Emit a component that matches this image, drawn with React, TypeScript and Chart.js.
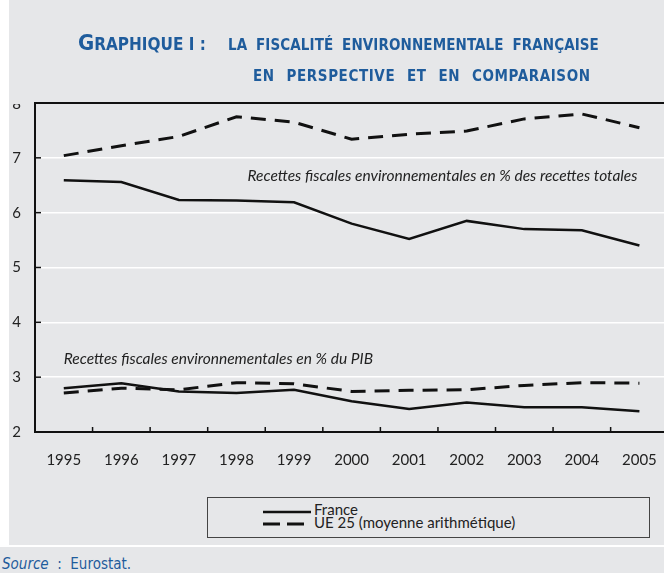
import React, { useEffect, useRef } from "react";
import { Chart, registerables } from "chart.js";

Chart.register(...registerables);

const years = ["1995", "1996", "1997", "1998", "1999", "2000", "2001", "2002", "2003", "2004", "2005"];
const franceTotal = [6.59, 6.56, 6.23, 6.22, 6.19, 5.8, 5.52, 5.85, 5.7, 5.68, 5.4];
const ueTotal = [7.04, 7.22, 7.39, 7.75, 7.65, 7.34, 7.43, 7.49, 7.71, 7.8, 7.55];
const francePib = [2.8, 2.89, 2.74, 2.71, 2.77, 2.56, 2.42, 2.54, 2.45, 2.45, 2.38];
const uePib = [2.71, 2.8, 2.77, 2.9, 2.88, 2.74, 2.76, 2.77, 2.85, 2.9, 2.89];
const yTicks = [2, 3, 4, 5, 6, 7, 8];
const labelTotal = "Recettes fiscales environnementales en % des recettes totales";
const labelPib = "Recettes fiscales environnementales en % du PIB";
const labelTotalAt = { index: 10, value: 6.67 };
const labelPibAt = { index: 0, value: 3.33 };
const legendLabels = ["France", "UE 25 (moyenne arithmétique)"];

const BLUE = "#1f5c9c";
const BG = "#e6e7e9";
const INK = "#111";
const SANS = "Lato, 'Open Sans', sans-serif";
const NARROW = "'Liberation Sans Narrow', 'DejaVu Sans Condensed', sans-serif";

const overlay = {
  id: "overlay",
  afterDraw(chart: any) {
    const { ctx, chartArea, scales } = chart;
    const x = scales.x;
    const y = scales.y;
    ctx.save();
    ctx.strokeStyle = INK;
    ctx.lineWidth = 1.5;
    for (let i = 1; i < years.length; i++) {
      const px = (x.getPixelForTick(i - 1) + x.getPixelForTick(i)) / 2;
      ctx.beginPath();
      ctx.moveTo(px, chartArea.bottom);
      ctx.lineTo(px, chartArea.bottom - 5);
      ctx.stroke();
    }
    for (const v of yTicks.slice(1, -1)) {
      const py = y.getPixelForValue(v);
      ctx.beginPath();
      ctx.moveTo(chartArea.left, py);
      ctx.lineTo(chartArea.left + 6, py);
      ctx.stroke();
    }
    ctx.fillStyle = "#222";
    ctx.font = "italic 15.5px " + SANS;
    ctx.textBaseline = "middle";
    ctx.textAlign = "right";
    ctx.fillText(labelTotal, x.getPixelForValue(labelTotalAt.index) - 2, y.getPixelForValue(labelTotalAt.value));
    ctx.textAlign = "left";
    ctx.fillText(labelPib, x.getPixelForValue(labelPibAt.index), y.getPixelForValue(labelPibAt.value));
    // top tick label, clipped at the frame like the original
    ctx.beginPath();
    ctx.rect(0, chartArea.top + 1, chartArea.left - 2, 30);
    ctx.clip();
    ctx.font = "15px " + SANS;
    ctx.textAlign = "right";
    ctx.fillStyle = "#222";
    const top = yTicks[yTicks.length - 1];
    ctx.fillText(String(top), chartArea.left - 14, y.getPixelForValue(top) + 1);
    ctx.restore();
  },
};

export default function App() {
  const ref = useRef<HTMLCanvasElement | null>(null);
  useEffect(() => {
    if (!ref.current) return;
    const solid = { borderColor: INK, borderWidth: 2.5, pointRadius: 0, tension: 0, fill: false };
    const dashed = { borderColor: INK, borderWidth: 3, borderDash: [15, 9], pointRadius: 0, tension: 0, fill: false };
    const chart = new Chart(ref.current, {
      type: "line",
      data: {
        labels: years,
        datasets: [
          { label: legendLabels[0], data: franceTotal, ...solid },
          { label: legendLabels[1], data: ueTotal, ...dashed },
          { label: legendLabels[0] + " PIB", data: francePib, ...solid },
          { label: legendLabels[1] + " PIB", data: uePib, ...dashed },
        ],
      },
      options: {
        animation: false,
        responsive: false,
        maintainAspectRatio: false,
        layout: { padding: { top: 103, right: 4, left: 0, bottom: 0 } },
        plugins: { legend: { display: false }, tooltip: { enabled: false }, title: { display: false } },
        scales: {
          x: {
            offset: true,
            grid: { display: false, drawTicks: false },
            border: { display: true, color: INK, width: 2 },
            ticks: { color: "#222", font: { family: SANS, size: 15 }, padding: 19, maxRotation: 0, autoSkip: false },
            afterFit: (s: any) => { s.height = 48; },
          },
          y: {
            min: 2,
            max: 8,
            afterBuildTicks: (s: any) => { s.ticks = yTicks.map((v) => ({ value: v })); },
            grid: {
              color: (c: any) => (c.tick && c.tick.value === 8 ? INK : "#ffffff"),
              lineWidth: (c: any) => (c.tick && c.tick.value === 8 ? 2 : 1.5),
              drawTicks: false,
            },
            border: { display: true, color: INK, width: 2 },
            ticks: {
              color: "#222",
              font: { family: SANS, size: 15 },
              padding: 14,
              callback: (v: any) => (v === 8 ? "" : String(v)),
            },
            afterFit: (s: any) => { s.width = 35; },
          },
        },
      },
      plugins: [overlay],
    });
    return () => chart.destroy();
  }, []);

  return (
    <div style={{ position: "fixed", left: 0, top: 0, width: 664, height: 573, overflow: "hidden", background: "#fff" }}>
      <div style={{ position: "absolute", left: 9, top: 0, width: 655, height: 545, background: BG }} />
      <div style={{ position: "absolute", left: 0, top: 547, width: 664, height: 26, background: BG }} />
      <canvas ref={ref} width={676} height={480} style={{ position: "absolute", left: 0, top: 0, width: 676, height: 480 }} />
      <div style={{ position: "absolute", left: 78, top: 31, whiteSpace: "nowrap", color: BLUE, fontFamily: NARROW, fontWeight: "bold", lineHeight: "24px" }}>
        <span style={{ fontSize: 22 }}>G</span>
        <span style={{ fontSize: 17 }}>RAPHIQUE I :</span>
      </div>
      <div style={{ position: "absolute", left: 228, top: 35, whiteSpace: "nowrap", color: BLUE, fontFamily: NARROW, fontWeight: "bold", fontSize: 15, letterSpacing: 0.1, wordSpacing: 4, lineHeight: "20px" }}>
        LA FISCALITÉ ENVIRONNEMENTALE FRANÇAISE
      </div>
      <div style={{ position: "absolute", left: 253, top: 66, whiteSpace: "nowrap", color: BLUE, fontFamily: NARROW, fontWeight: "bold", fontSize: 15, letterSpacing: 0.6, wordSpacing: 6.5, lineHeight: "20px" }}>
        EN PERSPECTIVE ET EN COMPARAISON
      </div>
      <div style={{ position: "absolute", left: 207, top: 497, width: 441, height: 39, border: "1px solid #444" }}>
        <svg width={60} height={40} style={{ position: "absolute", left: 54, top: 0 }}>
          <line x1={1} y1={14} x2={49} y2={14} stroke={INK} strokeWidth={2.5} />
          <line x1={1} y1={26} x2={49} y2={26} stroke={INK} strokeWidth={3} strokeDasharray="17 7" />
        </svg>
        <div style={{ position: "absolute", left: 106, top: 5, fontFamily: SANS, fontSize: 15, lineHeight: "13px", color: "#222", whiteSpace: "nowrap" }}>
          <div>{legendLabels[0]}</div>
          <div>{legendLabels[1]}</div>
        </div>
      </div>
      <div style={{ position: "absolute", left: 2, top: 555, whiteSpace: "nowrap", color: BLUE, fontFamily: NARROW, fontSize: 15, lineHeight: "18px" }}>
        <span style={{ fontStyle: "italic" }}>Source</span>
        <span>&nbsp;&nbsp;:&nbsp;&nbsp;Eurostat.</span>
      </div>
    </div>
  );
}
